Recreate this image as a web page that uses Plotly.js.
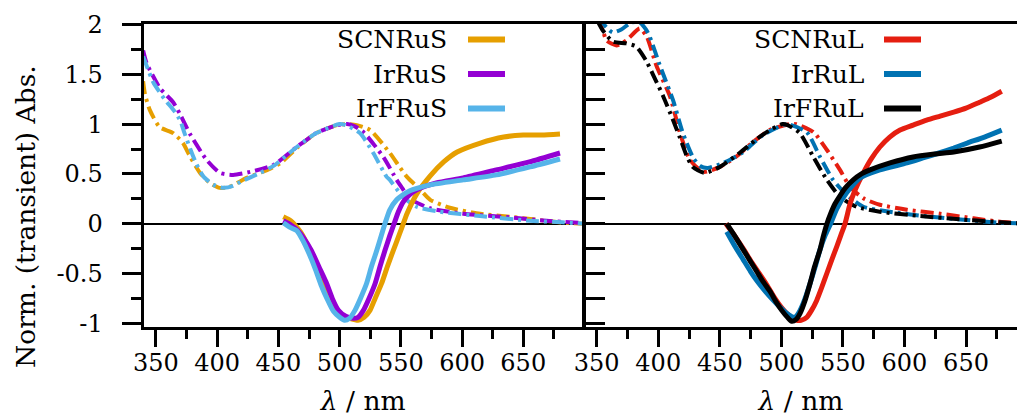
<!DOCTYPE html>
<html>
<head>
<meta charset="utf-8">
<script src="https://cdn.plot.ly/plotly-3.0.1.min.js"></script>
<style>
  html, body { margin: 0; padding: 0; background: #fff; overflow: hidden; }
  #chart { width: 1017px; height: 419px; }
</style>
</head>
<body>
<div id="chart"></div>
<script>
// ---- Steady-state absorption (dash-dot), short-linker series ----
const absWlSCNRuS = [339.5, 341, 345, 353, 364, 372, 378, 386, 394, 402, 410, 424, 441, 453, 465, 481, 498, 507, 514, 525, 541, 549, 555, 566, 574, 590, 615, 639, 661, 682, 700];
const absSCNRuS   = [1.43, 1.30, 1.14, 0.97, 0.91, 0.81, 0.67, 0.51, 0.41, 0.36, 0.37, 0.46, 0.54, 0.62, 0.76, 0.91, 0.99, 1.0, 0.99, 0.94, 0.71, 0.57, 0.47, 0.34, 0.24, 0.16, 0.10, 0.07, 0.04, 0.01, 0.0];

const absWlIrRuS = [339.5, 342.4, 353.3, 364, 369.6, 377.8, 391.4, 402.3, 413, 427, 446, 465, 481, 498, 506, 512, 519.4, 535.7, 546.6, 551, 557.4, 574, 601, 639, 669, 700];
const absIrRuS   = [1.74, 1.61, 1.36, 1.22, 1.10, 0.90, 0.64, 0.51, 0.49, 0.52, 0.59, 0.77, 0.91, 0.99, 1.0, 0.98, 0.92, 0.67, 0.44, 0.36, 0.25, 0.155, 0.10, 0.064, 0.03, 0.005];

const absWlIrFRuS = [339.5, 347.8, 357, 365, 370, 373, 378, 383, 389, 397, 405, 413, 419, 435, 446, 465, 481, 500, 505, 516.6, 527.5, 538.4, 541, 551.7, 563, 582, 614.6, 655.5, 682, 700];
const absIrFRuS   = [1.68, 1.42, 1.25, 1.13, 1.03, 0.92, 0.75, 0.60, 0.47, 0.39, 0.36, 0.38, 0.42, 0.51, 0.58, 0.77, 0.91, 1.0, 0.99, 0.91, 0.71, 0.47, 0.44, 0.27, 0.17, 0.12, 0.077, 0.03, 0.014, 0.0];

// ---- Transient absorption (solid), short-linker series ----
const taWlSCNRuS = [454, 460, 466, 470, 476, 482, 488, 493, 497.6, 503, 508, 515, 520, 524.8, 529, 534.3, 539, 543.8, 549, 552, 555, 563, 574, 585, 596, 615, 634, 650, 665, 680];
const taSCNRuS   = [0.07, 0.03, -0.05, -0.12, -0.27, -0.43, -0.60, -0.75, -0.87, -0.93, -0.95, -0.97, -0.94, -0.87, -0.75, -0.60, -0.43, -0.27, -0.10, 0.0, 0.10, 0.30, 0.48, 0.62, 0.72, 0.81, 0.87, 0.89, 0.89, 0.90];

const taWlIrRuS = [454, 460, 466, 471, 477, 483, 489.4, 494, 499, 505, 511, 515, 519.4, 524, 529, 533, 537, 541, 544.5, 548, 552, 557, 563, 579, 601, 628, 655, 680];
const taIrRuS   = [0.03, -0.01, -0.07, -0.15, -0.27, -0.43, -0.60, -0.75, -0.87, -0.93, -0.95, -0.94, -0.87, -0.75, -0.60, -0.43, -0.27, -0.12, 0.0, 0.12, 0.22, 0.29, 0.34, 0.41, 0.46, 0.54, 0.62, 0.71];

const taWlIrFRuS = [454, 460, 465, 470, 475, 480, 485, 490, 495, 500, 504, 508, 512.5, 517, 522, 526, 530.3, 534, 537, 541, 546.6, 551.7, 557.4, 563, 574, 601, 628, 655.5, 680];
const taIrFRuS   = [0.01, -0.04, -0.07, -0.17, -0.30, -0.45, -0.62, -0.76, -0.88, -0.94, -0.97, -0.95, -0.87, -0.75, -0.60, -0.43, -0.27, -0.12, 0.0, 0.14, 0.24, 0.29, 0.33, 0.355, 0.39, 0.44, 0.49, 0.57, 0.65];

// ---- Steady-state absorption (dash-dot), long-linker series ----
const absWlSCNRuL = [340, 350, 355, 358, 366, 374, 385, 390.6, 398.7, 409.5, 417.7, 425.8, 436.6, 450, 463, 477, 490.5, 507, 512, 526, 537, 547.6, 555.8, 566.6, 580, 602, 629, 656, 677.6, 700];
const absSCNRuL   = [2.30, 2.08, 1.94, 1.84, 1.79, 1.84, 1.96, 1.88, 1.58, 1.28, 0.91, 0.64, 0.52, 0.57, 0.67, 0.82, 0.94, 1.0, 1.0, 0.92, 0.74, 0.54, 0.37, 0.255, 0.19, 0.14, 0.10, 0.054, 0.02, 0.0];

const absWlIrRuL = [340, 350, 358, 363, 370, 378, 385, 390, 393, 401, 412, 420, 428.5, 434, 440, 453, 469, 485, 501, 505, 520.6, 531.4, 542, 553, 566.6, 588, 621, 650.6, 677.6, 700];
const absIrRuL   = [2.30, 2.10, 1.97, 1.92, 1.95, 2.02, 2.02, 1.95, 1.88, 1.60, 1.24, 0.91, 0.66, 0.58, 0.56, 0.61, 0.72, 0.89, 0.99, 1.0, 0.92, 0.67, 0.44, 0.29, 0.17, 0.12, 0.07, 0.037, 0.01, 0.0];

const absWlIrFRuL = [340, 350, 355, 363, 374, 382, 390, 396, 404, 412, 417.4, 422.8, 428, 437.7, 450, 466, 480, 492, 501, 505, 515, 526, 537, 547.6, 561, 580, 612.6, 645, 677.6, 700];
const absIrFRuL   = [2.25, 2.05, 1.94, 1.83, 1.81, 1.78, 1.64, 1.49, 1.28, 1.04, 0.87, 0.69, 0.57, 0.51, 0.57, 0.71, 0.85, 0.95, 1.0, 0.99, 0.91, 0.67, 0.44, 0.27, 0.17, 0.12, 0.077, 0.044, 0.014, 0.0];

// ---- Transient absorption (solid), long-linker series ----
const taWlSCNRuL = [455, 462, 469, 475, 481, 488, 494.8, 500, 504.3, 508, 512.4, 516, 520.6, 524.5, 528.7, 532.8, 536.9, 541, 545, 548.5, 551.7, 555.8, 560, 566.6, 573, 580, 588, 596.4, 607, 618, 629, 640, 650, 661, 670, 679];
const taSCNRuL   = [0.0, -0.12, -0.25, -0.37, -0.48, -0.61, -0.75, -0.84, -0.90, -0.94, -0.97, -0.97, -0.94, -0.87, -0.77, -0.64, -0.50, -0.36, -0.23, -0.11, 0.0, 0.20, 0.34, 0.51, 0.65, 0.77, 0.87, 0.94, 0.99, 1.04, 1.08, 1.12, 1.16, 1.22, 1.27, 1.33];

const taWlIrRuL = [455.6, 462, 469, 475, 480, 487, 493.5, 499, 504.3, 509.7, 512, 515.2, 519, 523.3, 527.5, 531.4, 535.5, 540, 545, 553, 564, 580, 602, 615, 628, 640, 651, 665, 679];
const taIrRuL   = [-0.08, -0.22, -0.36, -0.48, -0.57, -0.68, -0.77, -0.84, -0.90, -0.94, -0.93, -0.87, -0.76, -0.60, -0.43, -0.26, -0.12, 0.0, 0.15, 0.31, 0.46, 0.54, 0.61, 0.66, 0.71, 0.76, 0.81, 0.87, 0.94];

const taWlIrFRuL = [455.6, 462, 469, 475, 480, 485, 490.8, 496, 500.3, 505, 508.4, 512, 515.2, 519, 523.3, 527, 531.4, 534, 537, 540, 543.6, 547.6, 552, 558.4, 565, 572, 588.3, 607, 625, 640, 661, 679];
const taIrFRuL   = [0.0, -0.12, -0.26, -0.38, -0.48, -0.58, -0.68, -0.79, -0.87, -0.94, -0.98, -0.96, -0.90, -0.78, -0.60, -0.43, -0.26, -0.13, 0.0, 0.10, 0.20, 0.28, 0.36, 0.44, 0.50, 0.54, 0.61, 0.67, 0.70, 0.72, 0.77, 0.83];

// ---- Series names, colours, axis ticks ----
const namesShort  = ['SCNRuS', 'IrRuS', 'IrFRuS'];
const colorsShort = ['#E69F00', '#9400D3', '#56B4E9'];
const namesLong   = ['SCNRuL', 'IrRuL', 'IrFRuL'];
const colorsLong  = ['#E51E10', '#0072B2', '#000000'];
const yTickVals   = [-1, -0.5, 0, 0.5, 1, 1.5, 2];
const yTickText   = ['-1', '-0.5', '0', '0.5', '1', '1.5', '2'];
const xTickVals   = [350, 400, 450, 500, 550, 600, 650];
const xTitle      = '<i>λ</i> / nm';
const yTitle      = 'Norm. (transient) Abs.';

// ---- Page geometry (pixels) ----
const W = 1017, H = 419;
const M = { l: 0, r: 0, t: 24, b: 92 };
const plotH = H - M.t - M.b;
const px = x => x / W;                       // pixel x -> paper x
const py = y => (H - M.b - y) / plotH;       // pixel y -> paper y

const FONT = 'DejaVu Serif, Liberation Serif, serif';
const FS_TICK = 24, FS_LEG = 25, FS_TITLE = 26.5;
const dashDot = '13px,5px,3px,5px';

const absShort = [[absWlSCNRuS, absSCNRuS], [absWlIrRuS, absIrRuS], [absWlIrFRuS, absIrFRuS]];
const taShort  = [[taWlSCNRuS, taSCNRuS], [taWlIrRuS, taIrRuS], [taWlIrFRuS, taIrFRuS]];
const absLong  = [[absWlSCNRuL, absSCNRuL], [absWlIrRuL, absIrRuL], [absWlIrFRuL, absIrFRuL]];
const taLong   = [[taWlSCNRuL, taSCNRuL], [taWlIrRuL, taIrRuL], [taWlIrFRuL, taIrFRuL]];

const traces = [];
function addPanel(absSet, taSet, names, colors, xa, ya) {
  absSet.forEach(([x, y], i) => traces.push({
    x, y, xaxis: xa, yaxis: ya, type: 'scatter', mode: 'lines', name: names[i] + ' abs',
    line: { color: colors[i], width: 4, dash: dashDot, shape: 'spline', smoothing: 0.6 },
    showlegend: false, hoverinfo: 'skip'
  }));
  taSet.forEach(([x, y], i) => traces.push({
    x, y, xaxis: xa, yaxis: ya, type: 'scatter', mode: 'lines', name: names[i],
    line: { color: colors[i], width: 5, shape: 'spline', smoothing: 0.6 },
    showlegend: false, hoverinfo: 'skip'
  }));
}
addPanel(absShort, taShort, namesShort, colorsShort, 'x', 'y');
addPanel(absLong, taLong, namesLong, colorsLong, 'x2', 'y2');

// ---- Legends: right-aligned names with a line sample to their right ----
const annotations = [];
const shapes = [];
const legendRowsY = [39.5, 74, 108.5];
function addLegend(names, colors, textRight, lineX0, lineX1) {
  names.forEach((n, i) => {
    annotations.push({
      xref: 'paper', yref: 'paper', x: px(textRight), y: py(legendRowsY[i]),
      xanchor: 'right', yanchor: 'middle', text: n, showarrow: false,
      font: { family: FONT, size: FS_LEG, color: '#000' }
    });
    shapes.push({
      type: 'line', xref: 'paper', yref: 'paper',
      x0: px(lineX0), x1: px(lineX1), y0: py(legendRowsY[i]), y1: py(legendRowsY[i]),
      line: { color: colors[i], width: 6 }
    });
  });
}
addLegend(namesShort, colorsShort, 449, 468, 505);
addLegend(namesLong, colorsLong, 866, 884, 921);

// vertical axis title, placed beside the left panel
annotations.push({
  xref: 'paper', yref: 'paper', x: px(25), y: py(217), textangle: -90,
  xanchor: 'center', yanchor: 'middle', text: yTitle, showarrow: false,
  font: { family: FONT, size: FS_TITLE, color: '#000' }
});

const axisLine = { showline: true, linecolor: '#000', linewidth: 3, showgrid: false };

const xCommon = Object.assign({}, axisLine, {
  mirror: true, ticks: 'outside', ticklen: 17, tickwidth: 3, tickcolor: '#000',
  tickvals: xTickVals, ticklabelstandoff: -5,
  minor: { dtick: 25, tick0: 325, ticks: 'outside', ticklen: 9, tickwidth: 3, tickcolor: '#000' },
  tickfont: { family: FONT, size: FS_TICK, color: '#000' },
  title: { text: xTitle, font: { family: FONT, size: FS_TITLE, color: '#000' }, standoff: 16 },
  zeroline: false, fixedrange: true
});

const layout = {
  width: W, height: H, margin: M,
  paper_bgcolor: '#fff', plot_bgcolor: '#fff',
  showlegend: false,
  xaxis: Object.assign({}, xCommon, {
    domain: [px(143.5), px(583)], range: [339.8, 698.8], anchor: 'y'
  }),
  xaxis2: Object.assign({}, xCommon, {
    domain: [px(585), 1], range: [340.5, 691.4], anchor: 'y2'
  }),
  yaxis: Object.assign({}, axisLine, {
    mirror: true, range: [-1.037, 2.005], anchor: 'x',
    ticks: 'outside', ticklen: 19, tickwidth: 3, tickcolor: '#000',
    tickvals: yTickVals, ticktext: yTickText, ticklabelstandoff: 14,
    minor: { dtick: 0.25, tick0: 0, ticks: 'outside', ticklen: 10, tickwidth: 3, tickcolor: '#000' },
    tickfont: { family: FONT, size: FS_TICK, color: '#000' },
    zeroline: true, zerolinecolor: '#000', zerolinewidth: 2, fixedrange: true
  }),
  yaxis2: Object.assign({}, axisLine, {
    mirror: false, range: [-1.037, 2.005], anchor: 'x2',
    ticks: 'inside', ticklen: 20, tickwidth: 3, tickcolor: '#000',
    tickvals: yTickVals, showticklabels: false,
    minor: { dtick: 0.25, tick0: 0, ticks: 'inside', ticklen: 20, tickwidth: 3, tickcolor: '#000' },
    zeroline: true, zerolinecolor: '#000', zerolinewidth: 2, fixedrange: true
  }),
  annotations, shapes
};

Plotly.newPlot('chart', traces, layout, { staticPlot: true, displayModeBar: false });
</script>
</body>
</html>
